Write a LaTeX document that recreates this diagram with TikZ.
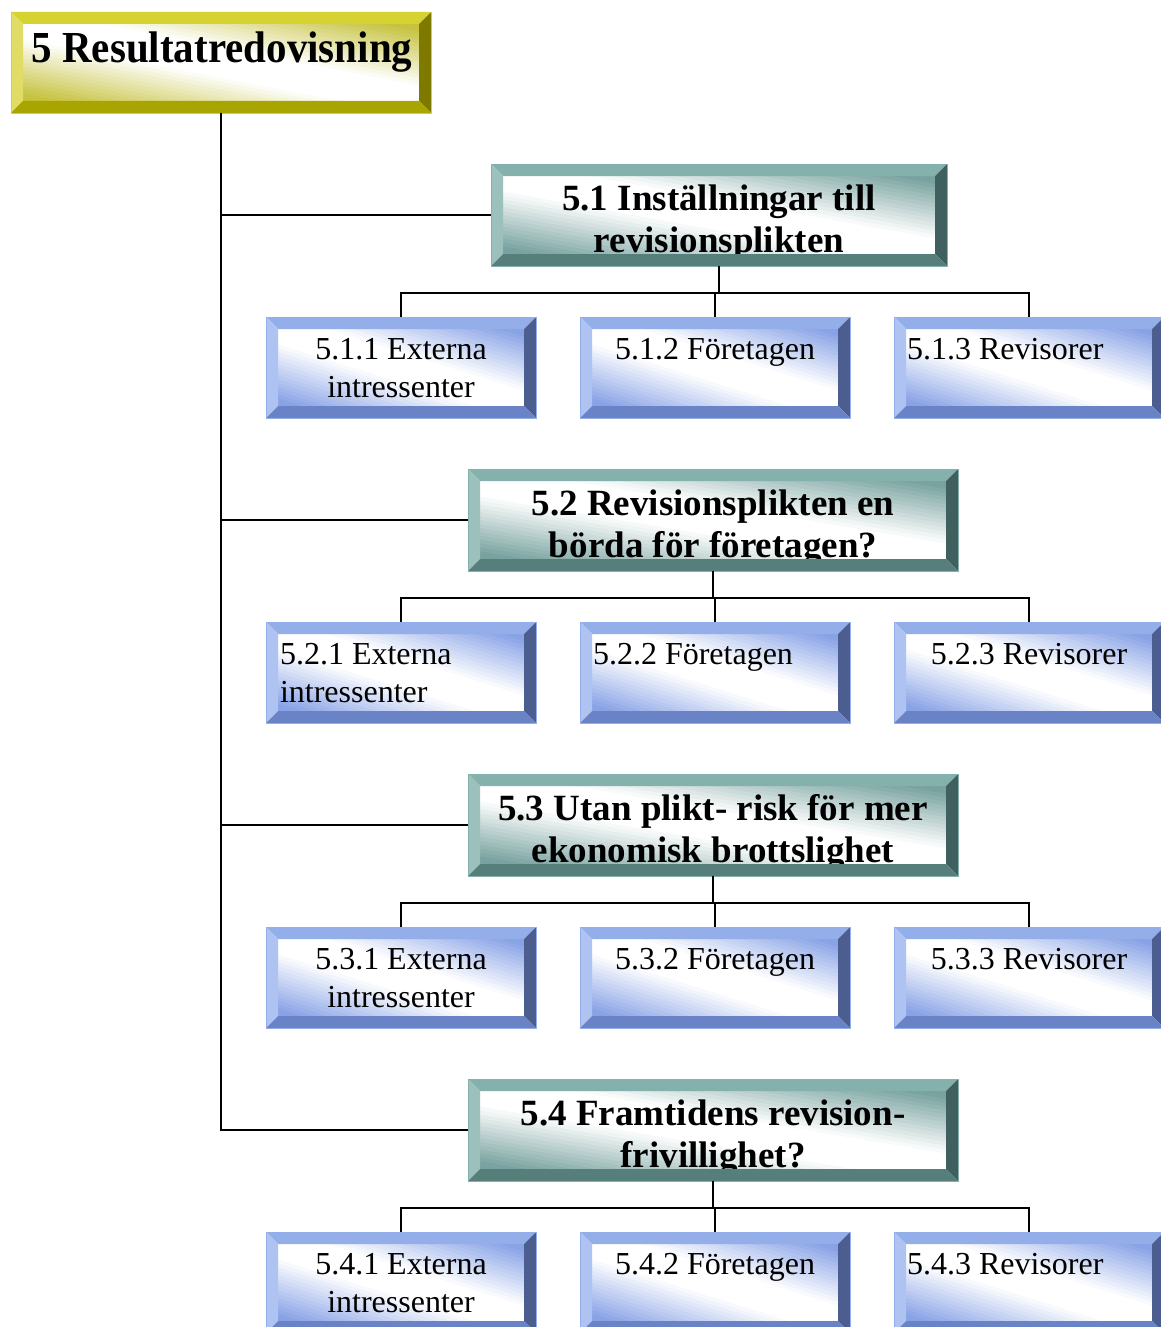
\documentclass[tikz,border=0pt]{standalone}
\usepackage{fontspec}
\setmainfont{Liberation Serif}
\definecolor{Ytop}{HTML}{D6D232}
\definecolor{Yleft}{HTML}{E0DC66}
\definecolor{Yright}{HTML}{7E7A00}
\definecolor{Ybot}{HTML}{A9A500}
\definecolor{Yface}{HTML}{C6C23E}
\definecolor{Ttop}{HTML}{85B1AD}
\definecolor{Tleft}{HTML}{9CC0BC}
\definecolor{Tright}{HTML}{3F605E}
\definecolor{Tbot}{HTML}{567F7C}
\definecolor{Tface}{HTML}{78A29F}
\definecolor{Btop}{HTML}{94AEEA}
\definecolor{Bleft}{HTML}{AFC3F2}
\definecolor{Bright}{HTML}{4B5E8F}
\definecolor{Bbot}{HTML}{6983C6}
\definecolor{Bface}{HTML}{88A2E6}
\tikzset{
  conn/.style={draw=black, line width=1.8pt},
  boxnode/.style={inner sep=0pt, outer sep=0pt},
  txt/.style={inner sep=0pt, outer sep=0pt, text=black},
  rootfont/.style={font=\fontsize{41}{48}\selectfont\bfseries},
  titlefont/.style={font=\fontsize{37}{42}\selectfont\bfseries},
  subfont/.style={font=\fontsize{32}{38}\selectfont},
}
\def\bw{12}
% #1 name, #2 x1, #3 y1, #4 x2, #5 y2, #6 palette, #7 text code
\newcommand\bevbox[7]{%
  \node[boxnode, minimum width={#4-#2}, minimum height={#5-#3}] (#1) at ({(#2+#4)/2},{(#3+#5)/2}) {};
  \begin{scope}
    \clip ({#2+\bw},{#3+\bw}) rectangle ({#4-\bw},{#5-\bw});
    \pgfmathsetmacro\fx{#2+\bw}%
    \pgfmathsetmacro\fy{#3+\bw}%
    \pgfmathsetmacro\fw{#4-#2-2*\bw}%
    \pgfmathsetmacro\fh{#5-#3-2*\bw}%
    \foreach \k in {0,...,39}{%
      \pgfmathsetmacro\sa{-1+\k/20}%
      \pgfmathsetmacro\sb{-1+(\k+1)/20+0.012}%
      \pgfmathsetmacro\sm{abs(-1+(\k+0.5)/20)}%
      \pgfmathtruncatemacro\pc{100*min(1,max(0,(\sm-0.18)/0.75))}%
      \fill[#6face!\pc!white]
        ({\fx+\fw*\sa/2},{\fy-\fh*\sa/2}) --
        ({\fx+\fw*\sb/2},{\fy-\fh*\sb/2}) --
        ({\fx+\fw*(\sb+2)/2},{\fy+\fh*(2-\sb)/2}) --
        ({\fx+\fw*(\sa+2)/2},{\fy+\fh*(2-\sa)/2}) -- cycle;
    }
    #7
  \end{scope}
  \fill[#6top] (#2,#3) -- (#4,#3) -- ({#4-\bw},{#3+\bw}) -- ({#2+\bw},{#3+\bw}) -- cycle;
  \fill[#6left] (#2,#3) -- ({#2+\bw},{#3+\bw}) -- ({#2+\bw},{#5-\bw}) -- (#2,#5) -- cycle;
  \fill[#6right] (#4,#3) -- (#4,#5) -- ({#4-\bw},{#5-\bw}) -- ({#4-\bw},{#3+\bw}) -- cycle;
  \fill[#6bot] (#2,#5) -- (#4,#5) -- ({#4-\bw},{#5-\bw}) -- ({#2+\bw},{#5-\bw}) -- cycle;
  \draw[#6top, line width=0.8pt] (#2,#3) rectangle (#4,#5);
}
\begin{document}
\begin{tikzpicture}[x=1pt, y=-1pt]
\useasboundingbox (0,0) rectangle (1161,1327);

% ---------- boxes ----------
\bevbox{root}{11}{12}{431}{113}{Y}{%
  \node[txt, rootfont, anchor=base] (root-t) at (222,63) {\scalebox{1}[1.08]{5 Resultatredovisning}};}

\bevbox{t1}{491}{164}{947}{266}{T}{%
  \node[txt, titlefont, anchor=base, text width=432, align=flush center] (t1-t) at (719,210) {5.1 Inställningar till\\revisionsplikten};}
\bevbox{t2}{468}{469}{958}{571}{T}{%
  \node[txt, titlefont, anchor=base, text width=466, align=flush center] (t2-t) at (713,515) {5.2 Revisionsplikten en\\börda för företagen?};}
\bevbox{t3}{468}{774}{958}{876}{T}{%
  \node[txt, titlefont, anchor=base, text width=466, align=flush center] (t3-t) at (713,820) {5.3 Utan plikt- risk för mer\\ekonomisk brottslighet};}
\bevbox{t4}{468}{1079}{958}{1181}{T}{%
  \node[txt, titlefont, anchor=base, text width=466, align=flush center] (t4-t) at (713,1125) {5.4 Framtidens revision-\\frivillighet?};}

% row 1
\bevbox{c11}{266}{317}{536}{418}{B}{%
  \node[txt, subfont, anchor=base, text width=246, align=flush center] (c11-t) at (401,359) {5.1.1 Externa\\intressenter};}
\bevbox{c12}{580}{317}{850}{418}{B}{%
  \node[txt, subfont, anchor=base] (c12-t) at (715,359) {5.1.2 Företagen};}
\bevbox{c13}{894}{317}{1164}{418}{B}{%
  \node[txt, subfont, anchor=base west] (c13-t) at (907,359) {5.1.3 Revisorer};}
% row 2
\bevbox{c21}{266}{622}{536}{723}{B}{%
  \node[txt, subfont, anchor=base west, text width=246, align=flush left] (c21-t) at (280,664) {5.2.1 Externa\\intressenter};}
\bevbox{c22}{580}{622}{850}{723}{B}{%
  \node[txt, subfont, anchor=base west] (c22-t) at (593,664) {5.2.2 Företagen};}
\bevbox{c23}{894}{622}{1164}{723}{B}{%
  \node[txt, subfont, anchor=base] (c23-t) at (1029,664) {5.2.3 Revisorer};}
% row 3
\bevbox{c31}{266}{927}{536}{1028}{B}{%
  \node[txt, subfont, anchor=base, text width=246, align=flush center] (c31-t) at (401,969) {5.3.1 Externa\\intressenter};}
\bevbox{c32}{580}{927}{850}{1028}{B}{%
  \node[txt, subfont, anchor=base] (c32-t) at (715,969) {5.3.2 Företagen};}
\bevbox{c33}{894}{927}{1164}{1028}{B}{%
  \node[txt, subfont, anchor=base] (c33-t) at (1029,969) {5.3.3 Revisorer};}
% row 4
\bevbox{c41}{266}{1232}{536}{1333}{B}{%
  \node[txt, subfont, anchor=base, text width=246, align=flush center] (c41-t) at (401,1274) {5.4.1 Externa\\intressenter};}
\bevbox{c42}{580}{1232}{850}{1333}{B}{%
  \node[txt, subfont, anchor=base] (c42-t) at (715,1274) {5.4.2 Företagen};}
\bevbox{c43}{894}{1232}{1164}{1333}{B}{%
  \node[txt, subfont, anchor=base west] (c43-t) at (907,1274) {5.4.3 Revisorer};}

% ---------- connectors ----------
\foreach \t in {t1,t2,t3,t4}
  \draw[conn] (root.south) |- (\t.west);
\foreach \p/\a/\b/\c in {t1/c11/c12/c13, t2/c21/c22/c23, t3/c31/c32/c33, t4/c41/c42/c43}{
  \draw[conn] (\p.south) -- ++(0,27) -| (\a.north);
  \draw[conn] (\p.south) -- ++(0,27) -| (\b.north);
  \draw[conn] (\p.south) -- ++(0,27) -| (\c.north);
}
\end{tikzpicture}
\end{document}
